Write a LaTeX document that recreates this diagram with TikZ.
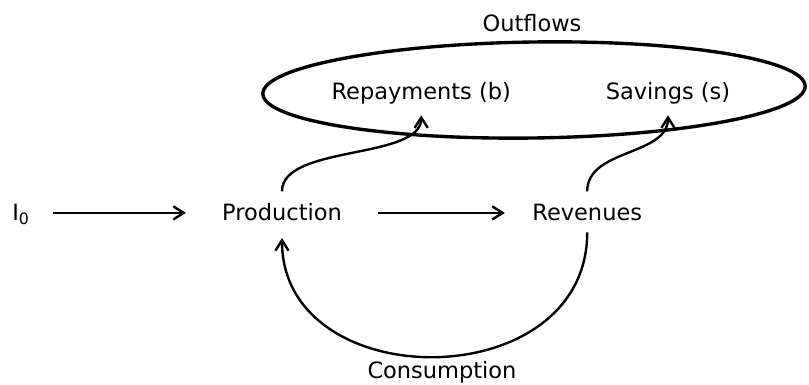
\documentclass[tikz,border=0pt]{standalone}
\usepackage{fontspec}
\setmainfont{DejaVu Sans}
\usepackage{tikz}
\usetikzlibrary{arrows.meta, positioning, calc}

\begin{document}
\begin{tikzpicture}[
    flowtext/.style={inner sep=0pt, text height=1.15em, text depth=0pt, anchor=base, font=\fontsize{16}{19}\selectfont},
    arrow/.style={-{Straight Barb[length=2.6mm, width=3.3mm]}, line width=1.7pt}
]
    \useasboundingbox (0,0) rectangle (20.225,9.625);

    \node[flowtext, anchor=base west] (income) at (0.30,4.10) {I\textsubscript{0}};
    \node[flowtext] (production) at (7.05,4.10) {Production};
    \node[flowtext] (revenues) at (14.68,4.10) {Revenues};
    \node[flowtext] (outflows) at (13.30,8.83) {Outflows};
    \node[flowtext] (repayments) at (10.53,7.13) {Repayments (b)};
    \node[flowtext] (savings) at (16.70,7.13) {Savings (s)};
    \node[flowtext] (consumption) at (11.05,0.16) {Consumption};

    % outflows ring
    \draw[line width=2.4pt, rotate around={0.8:(13.35,7.375)}] (13.35,7.375) ellipse [x radius=6.78, y radius=1.2];

    \draw[arrow, shorten <=0.58cm, shorten >=0.9cm] (income.east) -- (production.west);
    \draw[arrow, shorten <=0.9cm, shorten >=0.68cm] (production.east) -- (revenues.west);
    \draw[arrow, shorten <=0.33cm, shorten >=0.38cm] (production.north) .. controls +(0,1.5) and +(0,-1.5) .. (repayments.south);
    \draw[arrow, shorten <=0.33cm, shorten >=0.38cm] (revenues.north) .. controls +(0,1.4) and +(0,-1.4) .. (savings.south);
    \draw[arrow, shorten <=0.28cm, shorten >=0.42cm] (revenues.south) .. controls +(0,-4.4) and +(0,-4.4) .. (production.south);
\end{tikzpicture}
\end{document}
